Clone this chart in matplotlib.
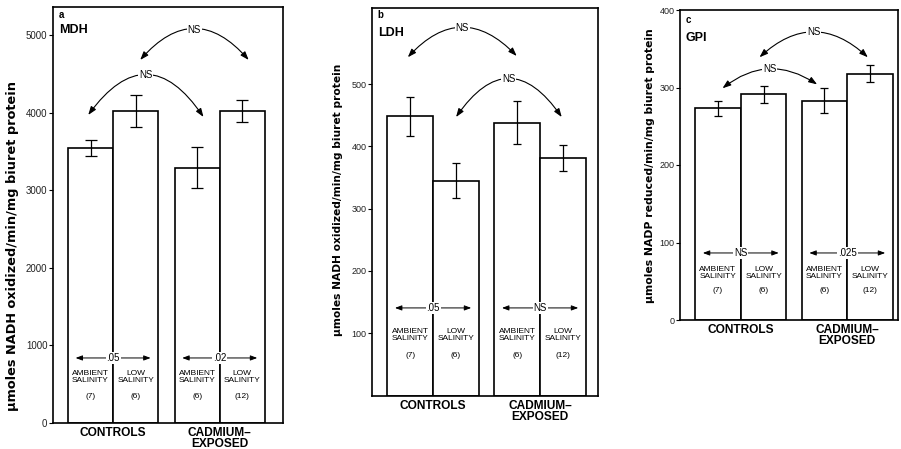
import matplotlib
matplotlib.use("Agg")
import matplotlib.pyplot as plt

plt.rcParams['font.family'] = ['Liberation Sans', 'DejaVu Sans']

groups = ["CONTROLS", "CADMIUM\u2013\nEXPOSED"]
salinity = ["AMBIENT\nSALINITY", "LOW\nSALINITY"]
n_fish = ["(7)", "(6)", "(6)", "(12)"]

mdh_mean = [3540, 4020, 3290, 4020]
mdh_err = [100, 200, 260, 140]
mdh_p = [".05", ".02"]

ldh_mean = [448, 345, 438, 381]
ldh_err = [31, 28, 34, 21]
ldh_p = [".05", "NS"]

gpi_mean = [273, 291, 283, 318]
gpi_err = [10, 11, 16, 11]
gpi_p = ["NS", ".025"]

panels = [
    dict(letter="a", name="MDH", mean=mdh_mean, err=mdh_err, p=mdh_p,
         ylabel="\u03bcmoles NADH oxidized/min/mg biuret protein",
         rect=[53/901, 1-423/449, 230/901, 416/449], ylim=5360,
         yticks=[0, 1000, 2000, 3000, 4000, 5000], gap=0.36, right=0.40,
         cap=4.5, lab_fs=9.3, tick_fs=7, lab_xy=(-0.178, 0.425), name_y=(0.98, 0.945),
         arcs=[(1.60, 4678, 4.00, 4678, -0.57, 5064),
               (0.45, 3969, 3.00, 3943, -0.71, 4485)],
         p_y=838, sal_y=593, n_y=335),
    dict(letter="b", name="LDH", mean=ldh_mean, err=ldh_err, p=ldh_p,
         ylabel="\u03bcmoles NADH oxidized/min/mg biuret protein",
         rect=[372/901, 1-395.6/449, 226/901, 387.6/449], ylim=622,
         yticks=[100, 200, 300, 400, 500], gap=0.33, right=0.26,
         cap=3.2, lab_fs=7.7, tick_fs=6.5, lab_xy=(-0.15, 0.505), name_y=(0.982, 0.935),
         arcs=[(0.45, 543, 2.82, 545, -0.53, 590),
               (1.50, 447, 3.80, 447, -0.72, 508)],
         p_y=140.7, sal_y=97, n_y=65),
    dict(letter="c", name="GPI", mean=gpi_mean, err=gpi_err, p=gpi_p,
         ylabel="\u03bcmoles NADP reduced/min/mg biuret protein",
         rect=[680/901, 1-320/449, 218/901, 310/449], ylim=400,
         yticks=[0, 100, 200, 300, 400], gap=0.33, right=0.11,
         cap=3.0, lab_fs=7.8, tick_fs=6.5, lab_xy=(-0.138, 0.497), name_y=(0.968, 0.91),
         arcs=[(1.41, 339, 3.78, 339, -0.46, 372),
               (0.60, 299, 2.67, 304, -0.36, 324)],
         p_y=86.5, sal_y=60.5, n_y=37.5),
]

fig = plt.figure(figsize=(9.01, 4.49), dpi=100)

for pn in panels:
    ax = fig.add_axes(pn["rect"])
    g = pn["gap"]
    xs = [0, 1, 2 + g, 3 + g]
    ax.bar(xs, pn["mean"], width=1, align="edge", facecolor="white",
           edgecolor="black", linewidth=1.2, zorder=2)
    ax.errorbar([x + 0.5 for x in xs], pn["mean"], yerr=pn["err"], fmt="none",
                ecolor="black", elinewidth=0.9, capsize=pn["cap"], capthick=0.9, zorder=3)
    ax.set_xlim(-0.33, 4 + g + pn["right"])
    ax.set_ylim(0, pn["ylim"])
    ax.set_xticks([])
    ax.set_yticks(pn["yticks"])
    ax.tick_params(axis="y", direction="out", length=3, width=0.8, pad=1,
                   labelsize=pn["tick_fs"], labelcolor="#222222")
    for s in ax.spines.values():
        s.set_linewidth(1.2)

    ax.text(pn["lab_xy"][0], pn["lab_xy"][1], pn["ylabel"], transform=ax.transAxes,
            rotation=90, ha="center", va="center", fontsize=pn["lab_fs"],
            fontweight="bold", family=["DejaVu Sans"])
    ax.text(0.025, pn["name_y"][0], pn["letter"], transform=ax.transAxes,
            ha="left", va="center", fontsize=7, fontweight="bold")
    ax.text(0.025, pn["name_y"][1], pn["name"], transform=ax.transAxes,
            ha="left", va="center", fontsize=9, fontweight="bold")

    # between-group comparisons (curved arrows)
    for x1, y1, x2, y2, rad, ly in pn["arcs"]:
        ax.annotate("", xy=(x2, y2), xytext=(x1, y1),
                    arrowprops=dict(arrowstyle="<|-|>,head_length=0.5,head_width=0.18",
                                    connectionstyle="arc3,rad=%s" % rad, lw=0.8,
                                    color="black", shrinkA=0, shrinkB=0))
        ax.text((x1 + x2) / 2, ly, "NS", ha="center", va="center", fontsize=7,
                bbox=dict(facecolor="white", edgecolor="none", pad=0.6), zorder=5)

    # within-group comparisons
    for k in range(2):
        a0 = xs[2 * k] + 0.17
        a1 = xs[2 * k + 1] + 0.83
        ax.annotate("", xy=(a1, pn["p_y"]), xytext=(a0, pn["p_y"]),
                    arrowprops=dict(arrowstyle="<|-|>,head_length=0.4,head_width=0.15",
                                    lw=0.7, color="black", shrinkA=0, shrinkB=0), zorder=4)
        ax.text((a0 + a1) / 2, pn["p_y"], pn["p"][k], ha="center", va="center",
                fontsize=7, bbox=dict(facecolor="white", edgecolor="none", pad=0.6), zorder=5)
        ax.annotate(groups[k], xy=(xs[2 * k] + 1, 0), xytext=(0, -3),
                    textcoords="offset points", ha="center", va="top",
                    fontsize=8.6, fontweight="bold", linespacing=0.88, annotation_clip=False)

    for i, x in enumerate(xs):
        ax.text(x + 0.5, pn["sal_y"], salinity[i % 2], ha="center", va="center",
                fontsize=6, linespacing=1.05, zorder=4)
        ax.text(x + 0.5, pn["n_y"], n_fish[i], ha="center", va="center",
                fontsize=6, zorder=4)

fig.savefig("out.png", dpi=100)
